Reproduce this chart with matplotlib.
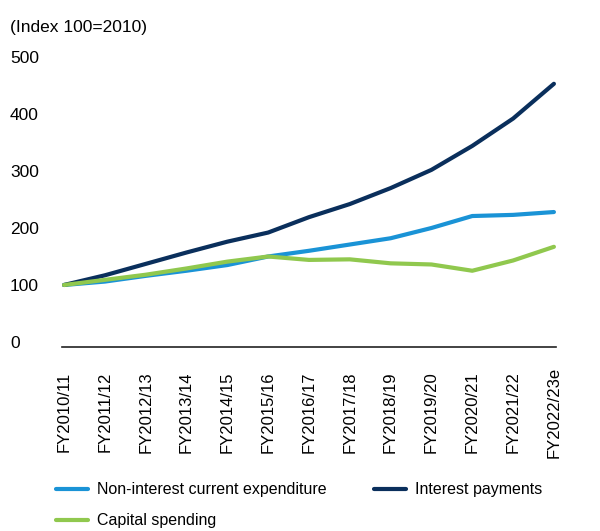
import matplotlib
matplotlib.use("Agg")
import matplotlib.pyplot as plt

years = ['FY2010/11', 'FY2011/12', 'FY2012/13', 'FY2013/14', 'FY2014/15',
         'FY2015/16', 'FY2016/17', 'FY2017/18', 'FY2018/19', 'FY2019/20',
         'FY2020/21', 'FY2021/22', 'FY2022/23e']
non_interest = [100, 106, 116, 125, 135, 150, 160, 171, 182, 200, 221, 223, 228]
interest = [100, 117, 137, 157, 176, 192, 219, 242, 270, 302, 344, 392, 453]
capital = [100, 109, 118, 129, 141, 150, 144, 145, 138, 136, 125, 143, 167]
y_ticks = [0, 100, 200, 300, 400, 500]

plt.rcParams['font.family'] = ['Liberation Sans', 'DejaVu Sans']

navy = '#0a2f5c'
blue = '#1a93d6'
green = '#90c84e'

fig = plt.figure(figsize=(6, 5.31), dpi=100)
ax = fig.add_axes([0.1033, 0.3465, 0.8233, 0.5569])

x = list(range(len(years)))
l_blue, = ax.plot(x, non_interest, color=blue, lw=3, solid_capstyle='round')
l_navy, = ax.plot(x, interest, color=navy, lw=3, solid_capstyle='round')
l_green, = ax.plot(x, capital, color=green, lw=3, solid_capstyle='round')

ax.set_xlim(-0.05, len(years) - 0.95)
ax.set_ylim(-8.8, 510)
ax.set_xticks(x)
ax.set_xticklabels(years, rotation=90, va='center', ha='center', fontsize=12)
ax.set_yticks(y_ticks)
ax.set_yticklabels([str(v) for v in y_ticks], ha='left', fontsize=12.5)
ax.tick_params(axis='x', length=0, pad=47)
ax.tick_params(axis='y', length=0, pad=37.5)
for side in ('left', 'right', 'top'):
    ax.spines[side].set_visible(False)
ax.spines['bottom'].set_color('#222222')
ax.spines['bottom'].set_linewidth(1.2)

fig.text(0.017, 0.949, '(Index 100=2010)', fontsize=12.5, va='center', ha='left')

fig.legend([l_blue, l_green, l_navy],
           ['Non-interest current expenditure', 'Capital spending', 'Interest payments'],
           ncol=2, loc='upper left', bbox_to_anchor=(0.093, 0.092), frameon=False,
           fontsize=11.5, handlelength=2.0, handletextpad=0.55, columnspacing=3.0,
           labelspacing=1.0, borderaxespad=0, borderpad=0)

fig.savefig('out.png', dpi=100)
